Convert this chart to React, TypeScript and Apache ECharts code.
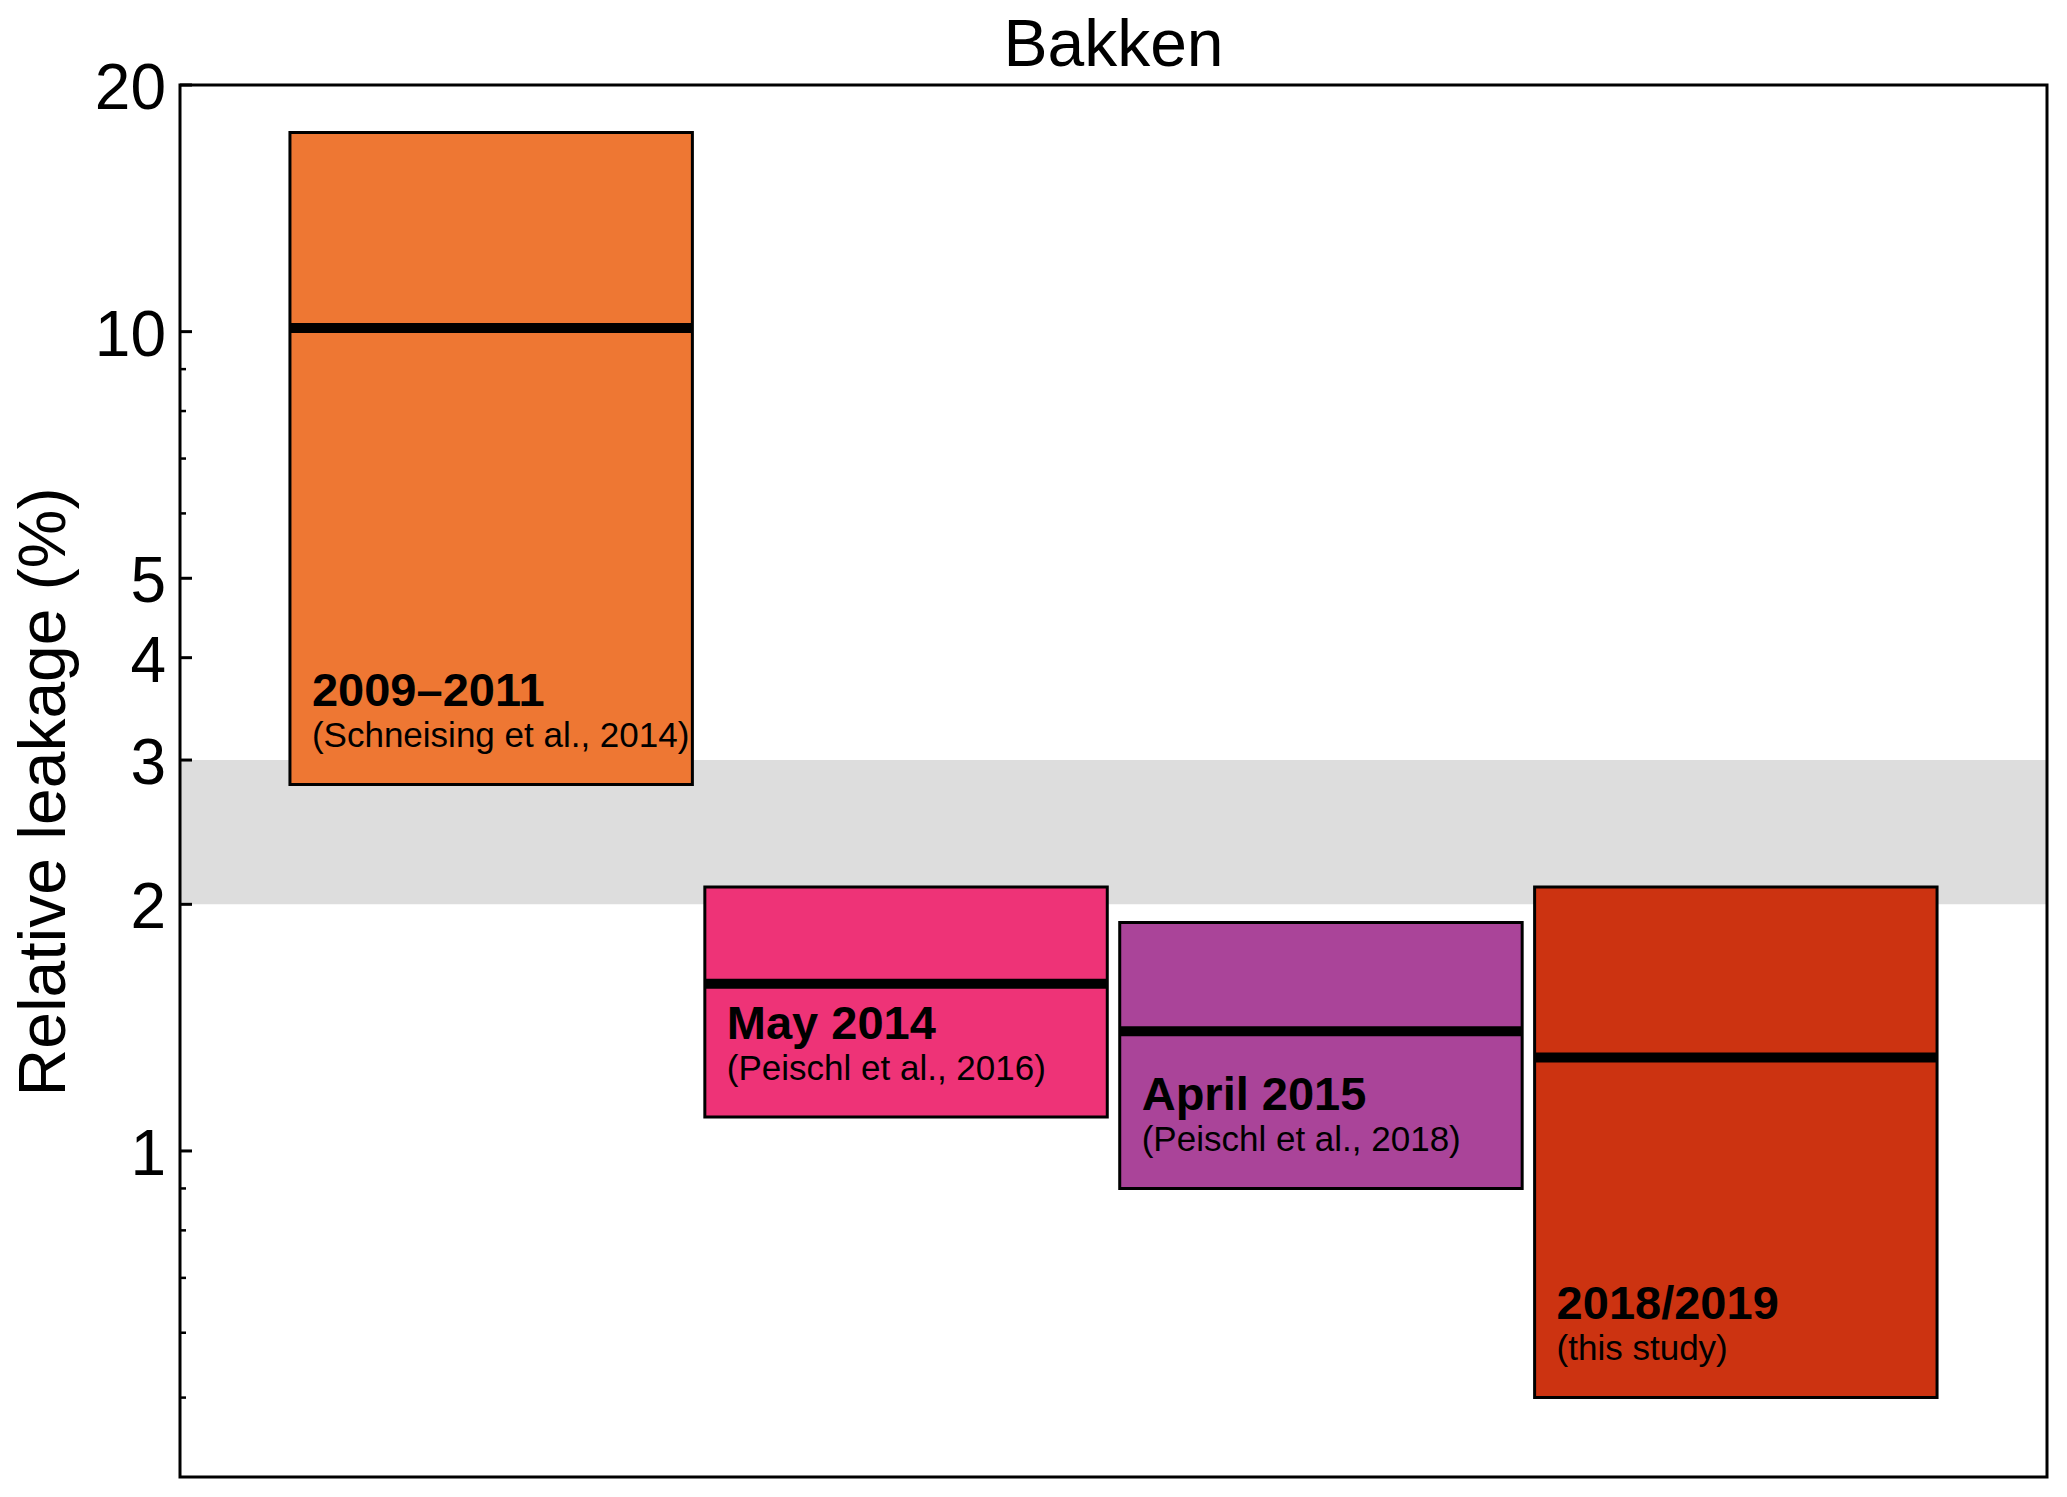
import { useEffect, useRef } from 'react';
import * as echarts from 'echarts';

const titleText = 'Bakken';
const yAxisName = 'Relative leakage (%)';
const periods = ['2009–2011', 'May 2014', 'April 2015', '2018/2019'];
const sources = ['(Schneising et al., 2014)', '(Peischl et al., 2016)', '(Peischl et al., 2018)', '(this study)'];
const lowValues = [2.8, 1.1, 0.9, 0.5];
const centralValues = [10.1, 1.6, 1.4, 1.3];
const highValues = [17.5, 2.1, 1.9, 2.1];
const boxColors = ['#EE7733', '#EE3377', '#AA4499', '#CC3311'];
const bandRange = [2, 3];
const majorTicks = [1, 2, 3, 4, 5, 10, 20];
const tickLabels = ['1', '2', '3', '4', '5', '10', '20'];
const minorTicks = [0.5, 0.6, 0.7, 0.8, 0.9, 6, 7, 8, 9];

const FONT = '"Liberation Sans", Arial, Helvetica, sans-serif';
const X_MIN = -0.75;
const X_MAX = 3.75;
const HALF = 0.485;

export default function App() {
  const ref = useRef<HTMLDivElement>(null);
  useEffect(() => {
    if (!ref.current) return;
    const chart = echarts.init(ref.current, null, { renderer: 'svg' });
    const option: any = {
      animation: false,
      backgroundColor: '#ffffff',
      grid: {
        left: 180, right: 20, top: 85, bottom: 20,
        show: true, z: 10, backgroundColor: 'transparent',
        borderColor: '#000', borderWidth: 3,
      },
      graphic: [
        {
          type: 'text', x: 1113.5, y: 43,
          style: { text: titleText, font: `66px ${FONT}`, fill: '#000', align: 'center', verticalAlign: 'middle' },
        },
        {
          type: 'text', x: 42, y: 792, rotation: Math.PI / 2,
          style: { text: yAxisName, font: `66px ${FONT}`, fill: '#000', align: 'center', verticalAlign: 'middle' },
        },
      ],
      xAxis: {
        type: 'value', min: X_MIN, max: X_MAX,
        axisLine: { show: false }, axisTick: { show: false }, axisLabel: { show: false }, splitLine: { show: false },
      },
      yAxis: {
        type: 'log', logBase: 10, min: 0.4, max: 20,
        axisLine: { show: false }, axisTick: { show: false }, axisLabel: { show: false }, splitLine: { show: false },
      },
      series: [
        {
          type: 'custom', name: 'band', z: 1, silent: true,
          data: [[0, bandRange[0], bandRange[1]]],
          encode: { x: 0, y: [1, 2] },
          renderItem: (params: any, api: any) => {
            const cs = params.coordSys;
            const yLo = api.coord([0, api.value(1)])[1];
            const yHi = api.coord([0, api.value(2)])[1];
            return {
              type: 'rect',
              shape: { x: cs.x, y: yHi, width: cs.width, height: yLo - yHi },
              style: { fill: '#DDDDDD' },
            };
          },
        },
        {
          type: 'custom', name: 'boxes', z: 2, silent: true,
          data: periods.map((_, i) => [i, lowValues[i], centralValues[i], highValues[i]]),
          encode: { x: 0, y: [1, 2, 3] },
          renderItem: (params: any, api: any) => {
            const i = api.value(0);
            const idx = params.dataIndex;
            const tl = api.coord([i - HALF, api.value(3)]);
            const br = api.coord([i + HALF, api.value(1)]);
            const mid = api.coord([i, api.value(2)]);
            return {
              type: 'group',
              children: [
                {
                  type: 'rect',
                  shape: { x: tl[0], y: tl[1], width: br[0] - tl[0], height: br[1] - tl[1] },
                  style: { fill: boxColors[idx], stroke: '#000', lineWidth: 3 },
                },
                {
                  type: 'line',
                  shape: { x1: tl[0], y1: mid[1], x2: br[0], y2: mid[1] },
                  style: { stroke: '#000', lineWidth: 10 },
                },
                {
                  type: 'text',
                  style: {
                    text: periods[idx], x: tl[0] + 22, y: br[1] - 95,
                    font: `bold 47px ${FONT}`, fill: '#000', align: 'left', verticalAlign: 'middle',
                  },
                },
                {
                  type: 'text',
                  style: {
                    text: sources[idx], x: tl[0] + 22, y: br[1] - 50,
                    font: `35px ${FONT}`, fill: '#000', align: 'left', verticalAlign: 'middle',
                  },
                },
              ],
            };
          },
        },
        {
          type: 'custom', name: 'majorTicks', z: 11, silent: true,
          data: majorTicks.map((v, i) => [0, v, i]),
          encode: { x: 0, y: 1 },
          renderItem: (params: any, api: any) => {
            const cs = params.coordSys;
            const y = api.coord([0, api.value(1)])[1];
            return {
              type: 'group',
              children: [
                { type: 'line', shape: { x1: cs.x, y1: y, x2: cs.x + 12, y2: y }, style: { stroke: '#000', lineWidth: 3 } },
                {
                  type: 'text',
                  style: {
                    text: tickLabels[api.value(2)], x: cs.x - 14, y: y + 2,
                    font: `64px ${FONT}`, fill: '#000', align: 'right', verticalAlign: 'middle',
                  },
                },
              ],
            };
          },
        },
        {
          type: 'custom', name: 'minorTicks', z: 11, silent: true,
          data: minorTicks.map((v) => [0, v]),
          encode: { x: 0, y: 1 },
          renderItem: (params: any, api: any) => {
            const cs = params.coordSys;
            const y = api.coord([0, api.value(1)])[1];
            return { type: 'line', shape: { x1: cs.x, y1: y, x2: cs.x + 6, y2: y }, style: { stroke: '#000', lineWidth: 2.5 } };
          },
        },
      ],
    };
    chart.setOption(option);
    return () => chart.dispose();
  }, []);
  return <div ref={ref} style={{ position: 'fixed', left: 0, top: 0, width: 2067, height: 1497 }} />;
}
